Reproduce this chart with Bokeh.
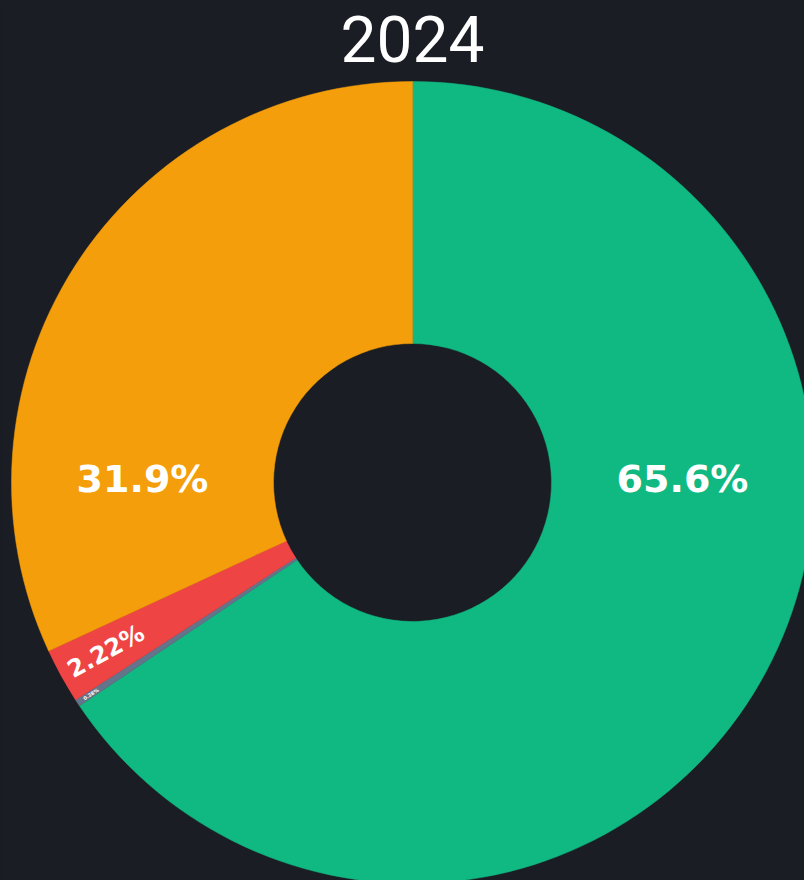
import math
from bokeh.plotting import figure
from bokeh.models import Range1d, ColumnDataSource
from bokeh.core.properties import value
from bokeh.embed import file_html
from bokeh.resources import INLINE

# ---- data (clockwise from 12 o'clock) ----
labels = ["Green", "Slate", "Red", "Orange"]
values = [65.6, 0.28, 2.22, 31.9]
colors = ["#10b981", "#64748b", "#ef4444", "#f59e0b"]
title_text = "2024"

BG = "#1a1d24"
W, H = 804, 880
cx, cy = 412, 398          # donut centre in data units (= pixels)
r_out, r_in = 401, 139

total = sum(values)
starts, ends, mids = [], [], []
cum = 0.0
for v in values:
    a0 = math.pi / 2 - 2 * math.pi * cum / total
    cum += v
    a1 = math.pi / 2 - 2 * math.pi * cum / total
    starts.append(a0)
    ends.append(a1)
    mids.append((a0 + a1) / 2)

p = figure(width=W, height=H, output_backend="svg", toolbar_location=None,
           x_range=Range1d(0, W), y_range=Range1d(0, H),
           background_fill_color=BG, border_fill_color=BG,
           min_border=0, outline_line_color=None)
p.axis.visible = False
p.grid.visible = False

src = ColumnDataSource(dict(start=starts, end=ends, color=colors))
p.annular_wedge(x=cx, y=cy, inner_radius=r_in, outer_radius=r_out,
                start_angle="start", end_angle="end", direction="clock",
                fill_color="color", line_color="color", line_width=0.5,
                source=src)

def fmt(v):
    pct = 100 * v / total
    if pct >= 10:
        return f"{pct:.1f}%"
    return f"{pct:.2f}%"

big_x, big_y, big_t = [], [], []
sm_x, sm_y, sm_t, sm_a, sm_s = [], [], [], [], []
r_mid = (r_out + r_in) / 2
for v, m in zip(values, mids):
    pct = 100 * v / total
    if pct >= 10:
        side = 1 if math.cos(m) > 0 else -1
        big_x.append(cx + side * r_mid)
        big_y.append(cy + 4)
        big_t.append(fmt(v))
    else:
        rr = 350 if pct > 1 else 385
        sm_x.append(cx + rr * math.cos(m))
        sm_y.append(cy + rr * math.sin(m))
        ang = m
        while ang > math.pi / 2:
            ang -= math.pi
        while ang < -math.pi / 2:
            ang += math.pi
        sm_a.append(ang)
        sm_t.append(fmt(v))
        sm_s.append("24px" if pct > 1 else "5px")

p.text(x=big_x, y=big_y, text=big_t, text_color="white",
       text_font=value("DejaVu Sans"), text_font_style="bold",
       text_font_size="38px", text_align="center", text_baseline="middle")

p.text(x=sm_x, y=sm_y, text=sm_t, angle=sm_a, text_color="white",
       text_font=value("DejaVu Sans"), text_font_style="bold",
       text_font_size=sm_s, text_align="center", text_baseline="middle")

p.text(x=[cx], y=[842], text=[title_text], text_color="white",
       text_font=value("Roboto"), text_font_size="64px",
       text_align="center", text_baseline="alphabetic")

html = file_html(p, INLINE)
html = html.replace("</head>", "<style>html,body{background:%s;}</style></head>" % BG, 1)
open("out.html", "w").write(html)
